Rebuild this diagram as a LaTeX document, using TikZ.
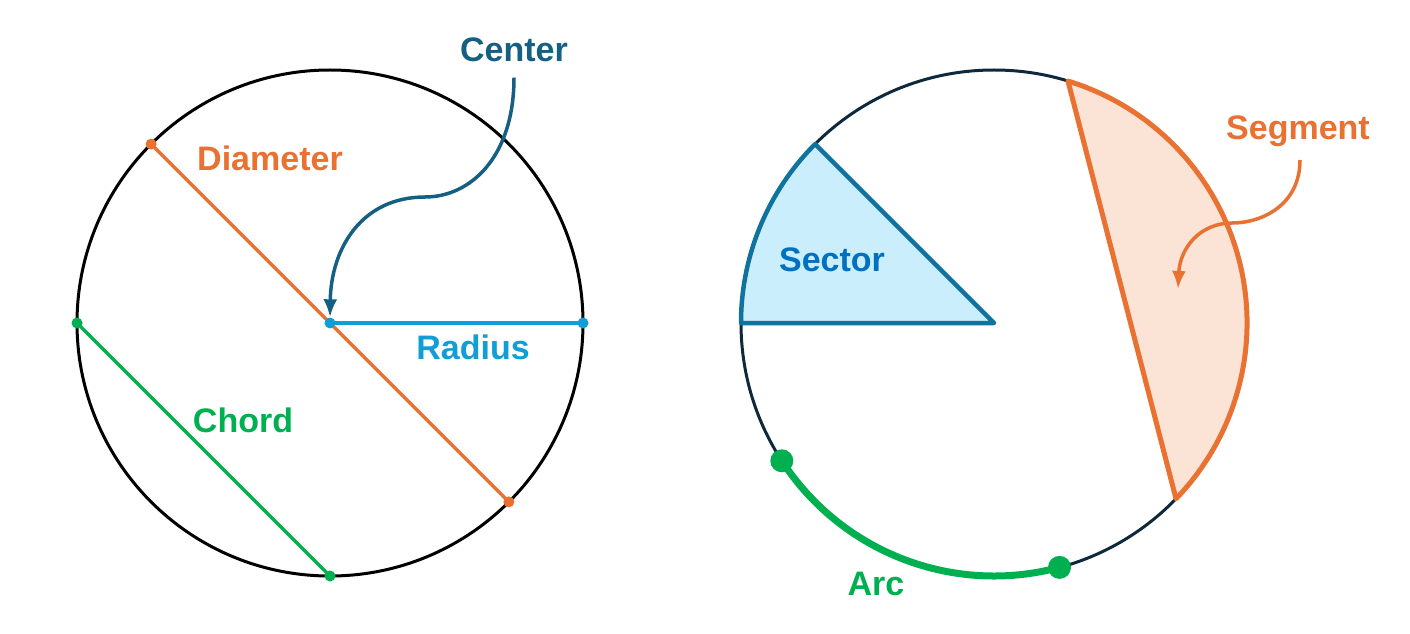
\documentclass[tikz,border=0pt]{standalone}
\usepackage{fontspec}
\setmainfont{Liberation Sans}
\usepackage{xcolor}
\usetikzlibrary{arrows.meta}
\definecolor{geoorange}{RGB}{233,113,50}
\definecolor{geoblue}{RGB}{15,158,213}
\definecolor{geogreen}{RGB}{0,176,80}
\definecolor{geonavy}{RGB}{21,96,130}
\definecolor{geosector}{RGB}{16,115,158}
\definecolor{geosectorfill}{RGB}{202,238,251}
\definecolor{geosegfill}{RGB}{251,227,214}
\definecolor{geolabel}{RGB}{0,112,192}
\definecolor{geodark}{RGB}{14,40,60}
\tikzset{
  lbl/.style={font=\fontsize{34}{37}\selectfont\bfseries},
  ring/.style={circle, draw, line width=3pt, minimum size=506pt, inner sep=0pt, outer sep=0pt},
  dot/.style={circle, fill, inner sep=0pt, minimum size=11pt},
  bigdot/.style={circle, fill, inner sep=0pt, minimum size=23pt}
}

\begin{document}
\begin{tikzpicture}[x=1pt,y=1pt]
\useasboundingbox (0,0) rectangle (1410,633);
% Left circle: parts by lines
\node[ring, draw=black] (L) at (330,310) {};
\draw[geoorange, line width=3.5pt] (L.135) -- (L.-45);
\draw[geogreen, line width=3.5pt] (L.180) -- (L.270);
\draw[geoblue, line width=3.5pt] (L.center) -- (L.0);
\node[dot, geoorange] at (L.135) {};
\node[dot, geoorange] at (L.-45) {};
\node[dot, geogreen] at (L.180) {};
\node[dot, geogreen] at (L.270) {};
\node[dot, geoblue] at (L.0) {};
\node[dot, geoblue] (lc) at (L.center) {};

\node[lbl, geoorange] (diam) at (270,475) {Diameter};
\node[lbl, geoblue] (rad) at (473,286) {Radius};
\node[lbl, geogreen] (chord) at (243,213) {Chord};
\node[lbl, geonavy] (cent) at (514,583) {Center};
\draw[geonavy, line width=3.5pt, -{Latex[length=18pt,width=14pt]}]
  (cent.south) ++(0,-12) .. controls +(0,-80) and (470,436) .. (425,436)
  .. controls (362,436) and (331,385) .. (lc.north);

% Right circle: parts by regions
\node[ring, draw=geodark] (R) at (994,310) {};
\coordinate (rc) at (R.center);
\draw[geosector, fill=geosectorfill, line width=4.5pt, line join=round]
  (rc) -- (R.180) arc[start angle=180, end angle=135, radius=253] -- cycle;
\draw[geoorange, fill=geosegfill, line width=5pt, line join=round]
  (R.73) arc[start angle=73, end angle=-44, radius=253] -- cycle;
\draw[geogreen, line width=7pt]
  (R.213) arc[start angle=213, end angle=285, radius=253];
\node[bigdot, geogreen] at (R.213) {};
\node[bigdot, geogreen] at (R.285) {};

\node[lbl, geolabel] (sect) at (832,373) {Sector};
\node[lbl, geogreen] (arc) at (876,49) {Arc};
\node[lbl, geoorange] (segm) at (1298,502) {Segment};
\coordinate (segtip) at (1178,344);
\draw[geoorange, line width=3.5pt, -{Latex[length=18pt,width=14pt]}]
  (segm.south) ++(2,-10) .. controls +(0,-45) and (1262,410) .. (1232,410)
  .. controls (1200,410) and (1180,385) .. (segtip);
\end{tikzpicture}
\end{document}
